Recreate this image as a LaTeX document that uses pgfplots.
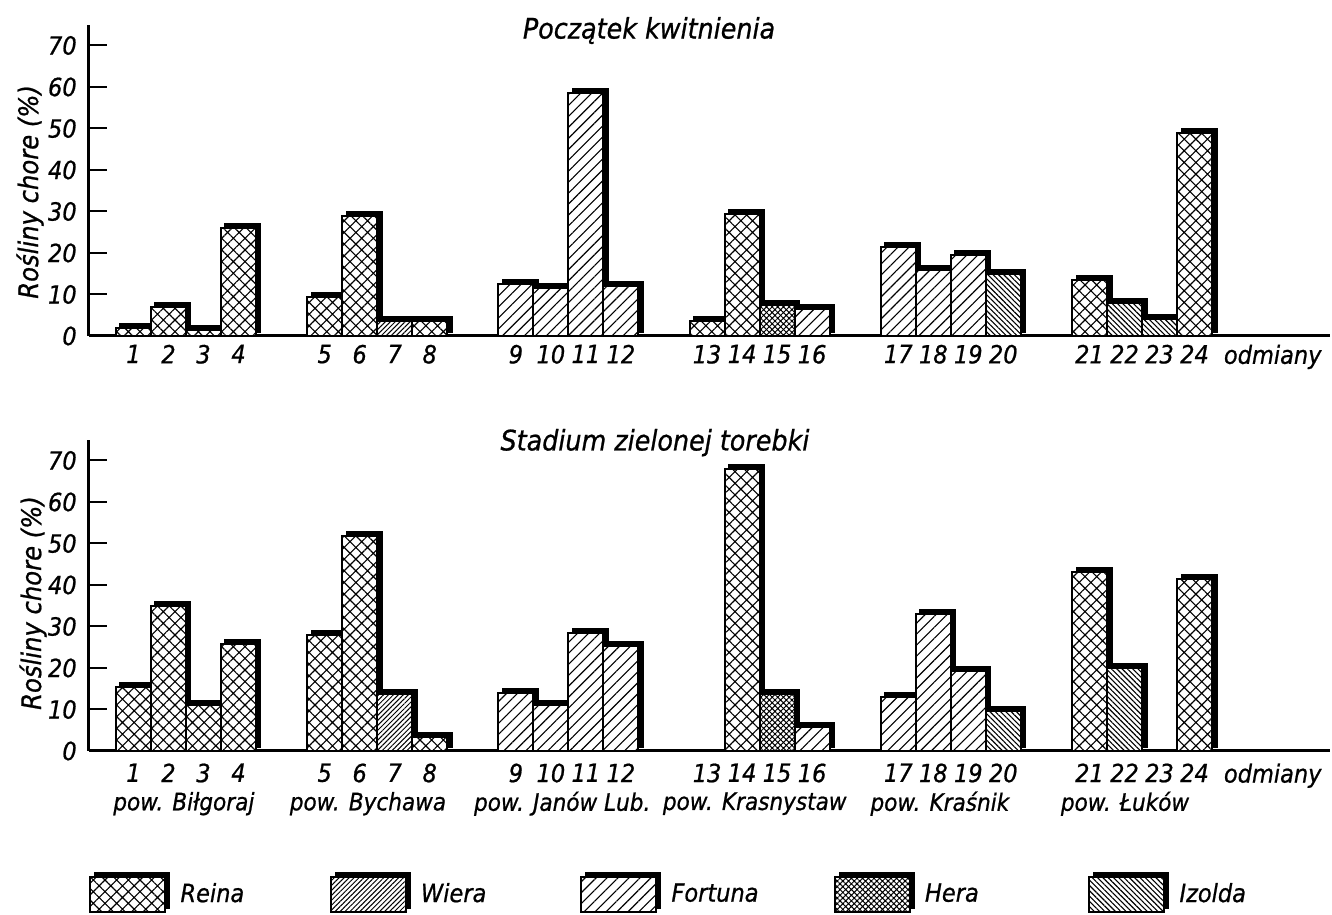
\documentclass[border=0pt]{standalone}
\usepackage{fontspec}
\setmainfont{DejaVu Sans Condensed}[ItalicFont={DejaVu Sans Condensed Oblique}, ItalicFeatures={FakeBold=0.8}]
\usepackage{pgfplots}
\pgfplotsset{compat=1.18}
\usetikzlibrary{patterns.meta}

\tikzset{
  barbase/.style={preaction={fill=white}, draw=black, line width=0.8pt},
  reina/.style={barbase, pattern={Hatch[angle=45,distance=3.3pt,line width=0.45pt]}},
  wiera/.style={barbase, pattern={Lines[angle=45,distance=1.4pt,line width=0.4pt]}},
  fortuna/.style={barbase, pattern={Lines[angle=45,distance=3.1pt,line width=0.45pt]}},
  hera/.style={barbase, pattern={Hatch[angle=45,distance=1.6pt,line width=0.4pt]}},
  izolda/.style={barbase, pattern={Lines[angle=-45,distance=1.5pt,line width=0.45pt]}},
  shadow/.style={fill=black, draw=black, line width=0.8pt, xshift=1.8pt, yshift=1.6pt},
}

\pgfplotsset{
  chart/.style={
    x=14pt, y=1.66pt, xmin=-0.271, xmax=35.19, ymin=0, ymax=75,
    anchor=south west,
    axis x line=bottom, axis y line=left,
    axis line style={-, line width=1.2pt},
    ytick={0,10,20,30,40,50,60,70},
    tick align=inside, major tick length=7pt,
    ytick style={line width=0.8pt, black},
    xtick style={draw=none},
    xtick={1,2,3,4,6.463,7.463,8.463,9.463,11.926,12.926,13.926,14.926,17.389,18.389,19.389,20.389,22.852,23.852,24.852,25.852,28.315,29.315,30.315,31.315,33.55},
    xticklabels={1,2,3,4,5,6,7,8,9,10,11,12,13,14,15,16,17,18,19,20,21,22,23,24,odmiany},
    /pgf/number format/assume math mode=true,
    ticklabel style={font=\itshape\fontsize{10}{12}\selectfont},
    yticklabel style={xshift=-1.4pt},
    clip=false,
    ylabel={Rośliny chore (\%)},
    ylabel style={font=\itshape\fontsize{10.8}{12}\selectfont, anchor=center},
  },
  pbar/.style={ybar, bar width=1, bar shift=0pt, forget plot},
  legbox/.style={legend image code/.code={%
    \fill[black] (1.8pt,-5.6pt) rectangle (31.8pt,8.6pt);
    \draw[#1] (0pt,-7.2pt) rectangle (30pt,7pt);}},
}

\begin{document}
\begin{tikzpicture}
\useasboundingbox (0,0) rectangle (532.8pt,366pt);

% ---------------- top chart ----------------
\begin{axis}[chart, at={(35.6pt,231.6pt)},
  ylabel style={at={(axis description cs:-0.0475,0.463)}}]
\addplot[pbar, shadow] coordinates {
 (1,2) (2,7) (3,1.5) (4,26) (6.463,9.5) (7.463,29) (8.463,3.5) (9.463,3.5)
 (11.926,12.5) (12.926,11.5) (13.926,58.5) (14.926,12)
 (17.389,3.5) (18.389,29.5) (19.389,7.5) (20.389,6.5)
 (22.852,21.5) (23.852,16) (24.852,19.5) (25.852,15)
 (28.315,13.5) (29.315,8) (30.315,4) (31.315,49)};
% Reina
\addplot[pbar, reina] coordinates {
 (1,2) (2,7) (3,1.5) (4,26) (6.463,9.5) (7.463,29) (9.463,3.5)
 (17.389,3.5) (18.389,29.5) (28.315,13.5) (31.315,49)};
% Wiera
\addplot[pbar, wiera] coordinates {(8.463,3.5)};
% Fortuna
\addplot[pbar, fortuna] coordinates {
 (11.926,12.5) (12.926,11.5) (13.926,58.5) (14.926,12) (20.389,6.5)
 (22.852,21.5) (23.852,16) (24.852,19.5)};
% Hera
\addplot[pbar, hera] coordinates {(19.389,7.5)};
% Izolda
\addplot[pbar, izolda] coordinates {(25.852,15) (29.315,8) (30.315,4)};
\node[font=\itshape\fontsize{11.3}{13}\selectfont] at (axis cs:15.73,73.6) {Początek kwitnienia};
\end{axis}

% ---------------- bottom chart ----------------
\begin{axis}[chart, at={(35.6pt,65.6pt)},
  ylabel style={at={(axis description cs:-0.0451,0.4755)}},
  xticklabel style={yshift=-1.5pt},
  legend columns=5,
  legend style={at={(axis description cs:0.0,-0.456)}, anchor=west,
    draw=none, fill=none, inner sep=0pt,
    /tikz/every even column/.append style={column sep=0pt},
    nodes={inner sep=0pt, font=\itshape\fontsize{10}{12}\selectfont}}]
\addplot[pbar, shadow] coordinates {
 (1,15.4) (2,35) (3,11) (4,25.8) (6.463,28) (7.463,51.8) (8.463,13.7) (9.463,3.4)
 (11.926,14) (12.926,11) (13.926,28.4) (14.926,25.3)
 (18.389,68) (19.389,13.7) (20.389,5.8)
 (22.852,13) (23.852,33) (24.852,19.3) (25.852,9.6)
 (28.315,43.2) (29.315,20) (31.315,41.4)};
% Reina
\addplot[pbar, reina] coordinates {
 (1,15.4) (2,35) (3,11) (4,25.8) (6.463,28) (7.463,51.8) (9.463,3.4)
 (18.389,68) (28.315,43.2) (31.315,41.4)};
% Wiera
\addplot[pbar, wiera] coordinates {(8.463,13.7)};
% Fortuna
\addplot[pbar, fortuna] coordinates {
 (11.926,14) (12.926,11) (13.926,28.4) (14.926,25.3) (20.389,5.8)
 (22.852,13) (23.852,33) (24.852,19.3)};
% Hera
\addplot[pbar, hera] coordinates {(19.389,13.7)};
% Izolda
\addplot[pbar, izolda] coordinates {(25.852,9.6) (29.315,20)};

\node[font=\itshape\fontsize{11.3}{13}\selectfont] at (axis cs:15.9,74.3) {Stadium zielonej torebki};
\begin{scope}[every node/.style={font=\itshape\fontsize{9.6}{12}\selectfont}]
\node at (axis cs:2.44,-12.7) {pow. Biłgoraj};
\node at (axis cs:7.70,-12.7) {pow. Bychawa};
\node at (axis cs:13.25,-12.7) {pow. Janów Lub.};
\node at (axis cs:18.75,-12.7) {pow. Krasnystaw};
\node at (axis cs:24.04,-12.7) {pow. Kraśnik};
\node at (axis cs:29.33,-12.7) {pow. Łuków};
\end{scope}

\addlegendimage{legbox=reina}
\addlegendentry{\hspace*{4pt}\makebox[59.8pt][l]{Reina}}
\addlegendimage{legbox=wiera}
\addlegendentry{\hspace*{4pt}\makebox[63.8pt][l]{Wiera}}
\addlegendimage{legbox=fortuna}
\addlegendentry{\hspace*{4pt}\makebox[65pt][l]{Fortuna}}
\addlegendimage{legbox=hera}
\addlegendentry{\hspace*{4pt}\makebox[65.4pt][l]{Hera}}
\addlegendimage{legbox=izolda}
\addlegendentry{\hspace*{4pt}\makebox[30pt][l]{Izolda}}
\end{axis}
\end{tikzpicture}
\end{document}
